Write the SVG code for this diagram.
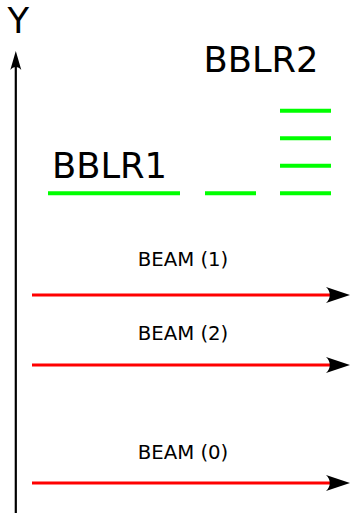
<svg xmlns="http://www.w3.org/2000/svg" width="350" height="513" viewBox="0 0 350 513">
  <style>
    .big { font-family: "DejaVu Sans", "Liberation Sans", sans-serif; font-size: 35.3px; fill: #000; }
    .beam-label { font-family: "DejaVu Sans", "Liberation Sans", sans-serif; font-size: 19.7px; fill: #000; text-anchor: middle; }
    .bblr { stroke: #00ff00; stroke-width: 4; fill: none; }
    .beam { stroke: #ff0000; stroke-width: 3; fill: none; marker-end: url(#beamHead); }
    .axis { stroke: #000; stroke-width: 2.2; fill: none; marker-end: url(#axisHead); }
  </style>
  <defs>
    <marker id="beamHead" markerUnits="userSpaceOnUse" markerWidth="28" markerHeight="16" refX="4" refY="8" orient="auto" overflow="visible">
      <path d="M24,8 L0,0 C5,4.5 5,11.5 0,16 Z" fill="#000"/>
    </marker>
    <marker id="axisHead" markerUnits="userSpaceOnUse" markerWidth="20" markerHeight="11" refX="4" refY="5.5" orient="auto" overflow="visible">
      <path d="M19,5.5 L0,0 C4,3 4,8 0,11 Z" fill="#000"/>
    </marker>
  </defs>

  <!-- vertical axis -->
  <g id="axis-y">
    <line class="axis" x1="15.8" y1="513" x2="15.8" y2="66"/>
    <text class="big" x="7.5" y="33">Y</text>
  </g>

  <!-- beam-beam long-range elements -->
  <g id="bblr1">
    <text class="big" x="52" y="178">BBLR1</text>
    <line class="bblr" x1="48" y1="193.3" x2="180" y2="193.3"/>
  </g>
  <g id="bblr2">
    <text class="big" x="203.5" y="71.5">BBLR2</text>
    <line class="bblr" x1="205" y1="193.3" x2="256" y2="193.3"/>
    <line class="bblr" x1="280" y1="110.7" x2="331" y2="110.7"/>
    <line class="bblr" x1="280" y1="138.3" x2="331" y2="138.3"/>
    <line class="bblr" x1="280" y1="165.7" x2="331" y2="165.7"/>
    <line class="bblr" x1="280" y1="193.3" x2="331" y2="193.3"/>
  </g>

  <!-- beams -->
  <g id="connectors">
    <line class="beam" x1="32" y1="295" x2="330" y2="295"/>
    <line class="beam" x1="32" y1="365" x2="330" y2="365"/>
    <line class="beam" x1="32" y1="483" x2="330" y2="483"/>
  </g>
  <g id="beam-labels">
    <text class="beam-label" x="183" y="265.7">BEAM (1)</text>
    <text class="beam-label" x="183" y="339.7">BEAM (2)</text>
    <text class="beam-label" x="183" y="458.7">BEAM (0)</text>
  </g>
</svg>
